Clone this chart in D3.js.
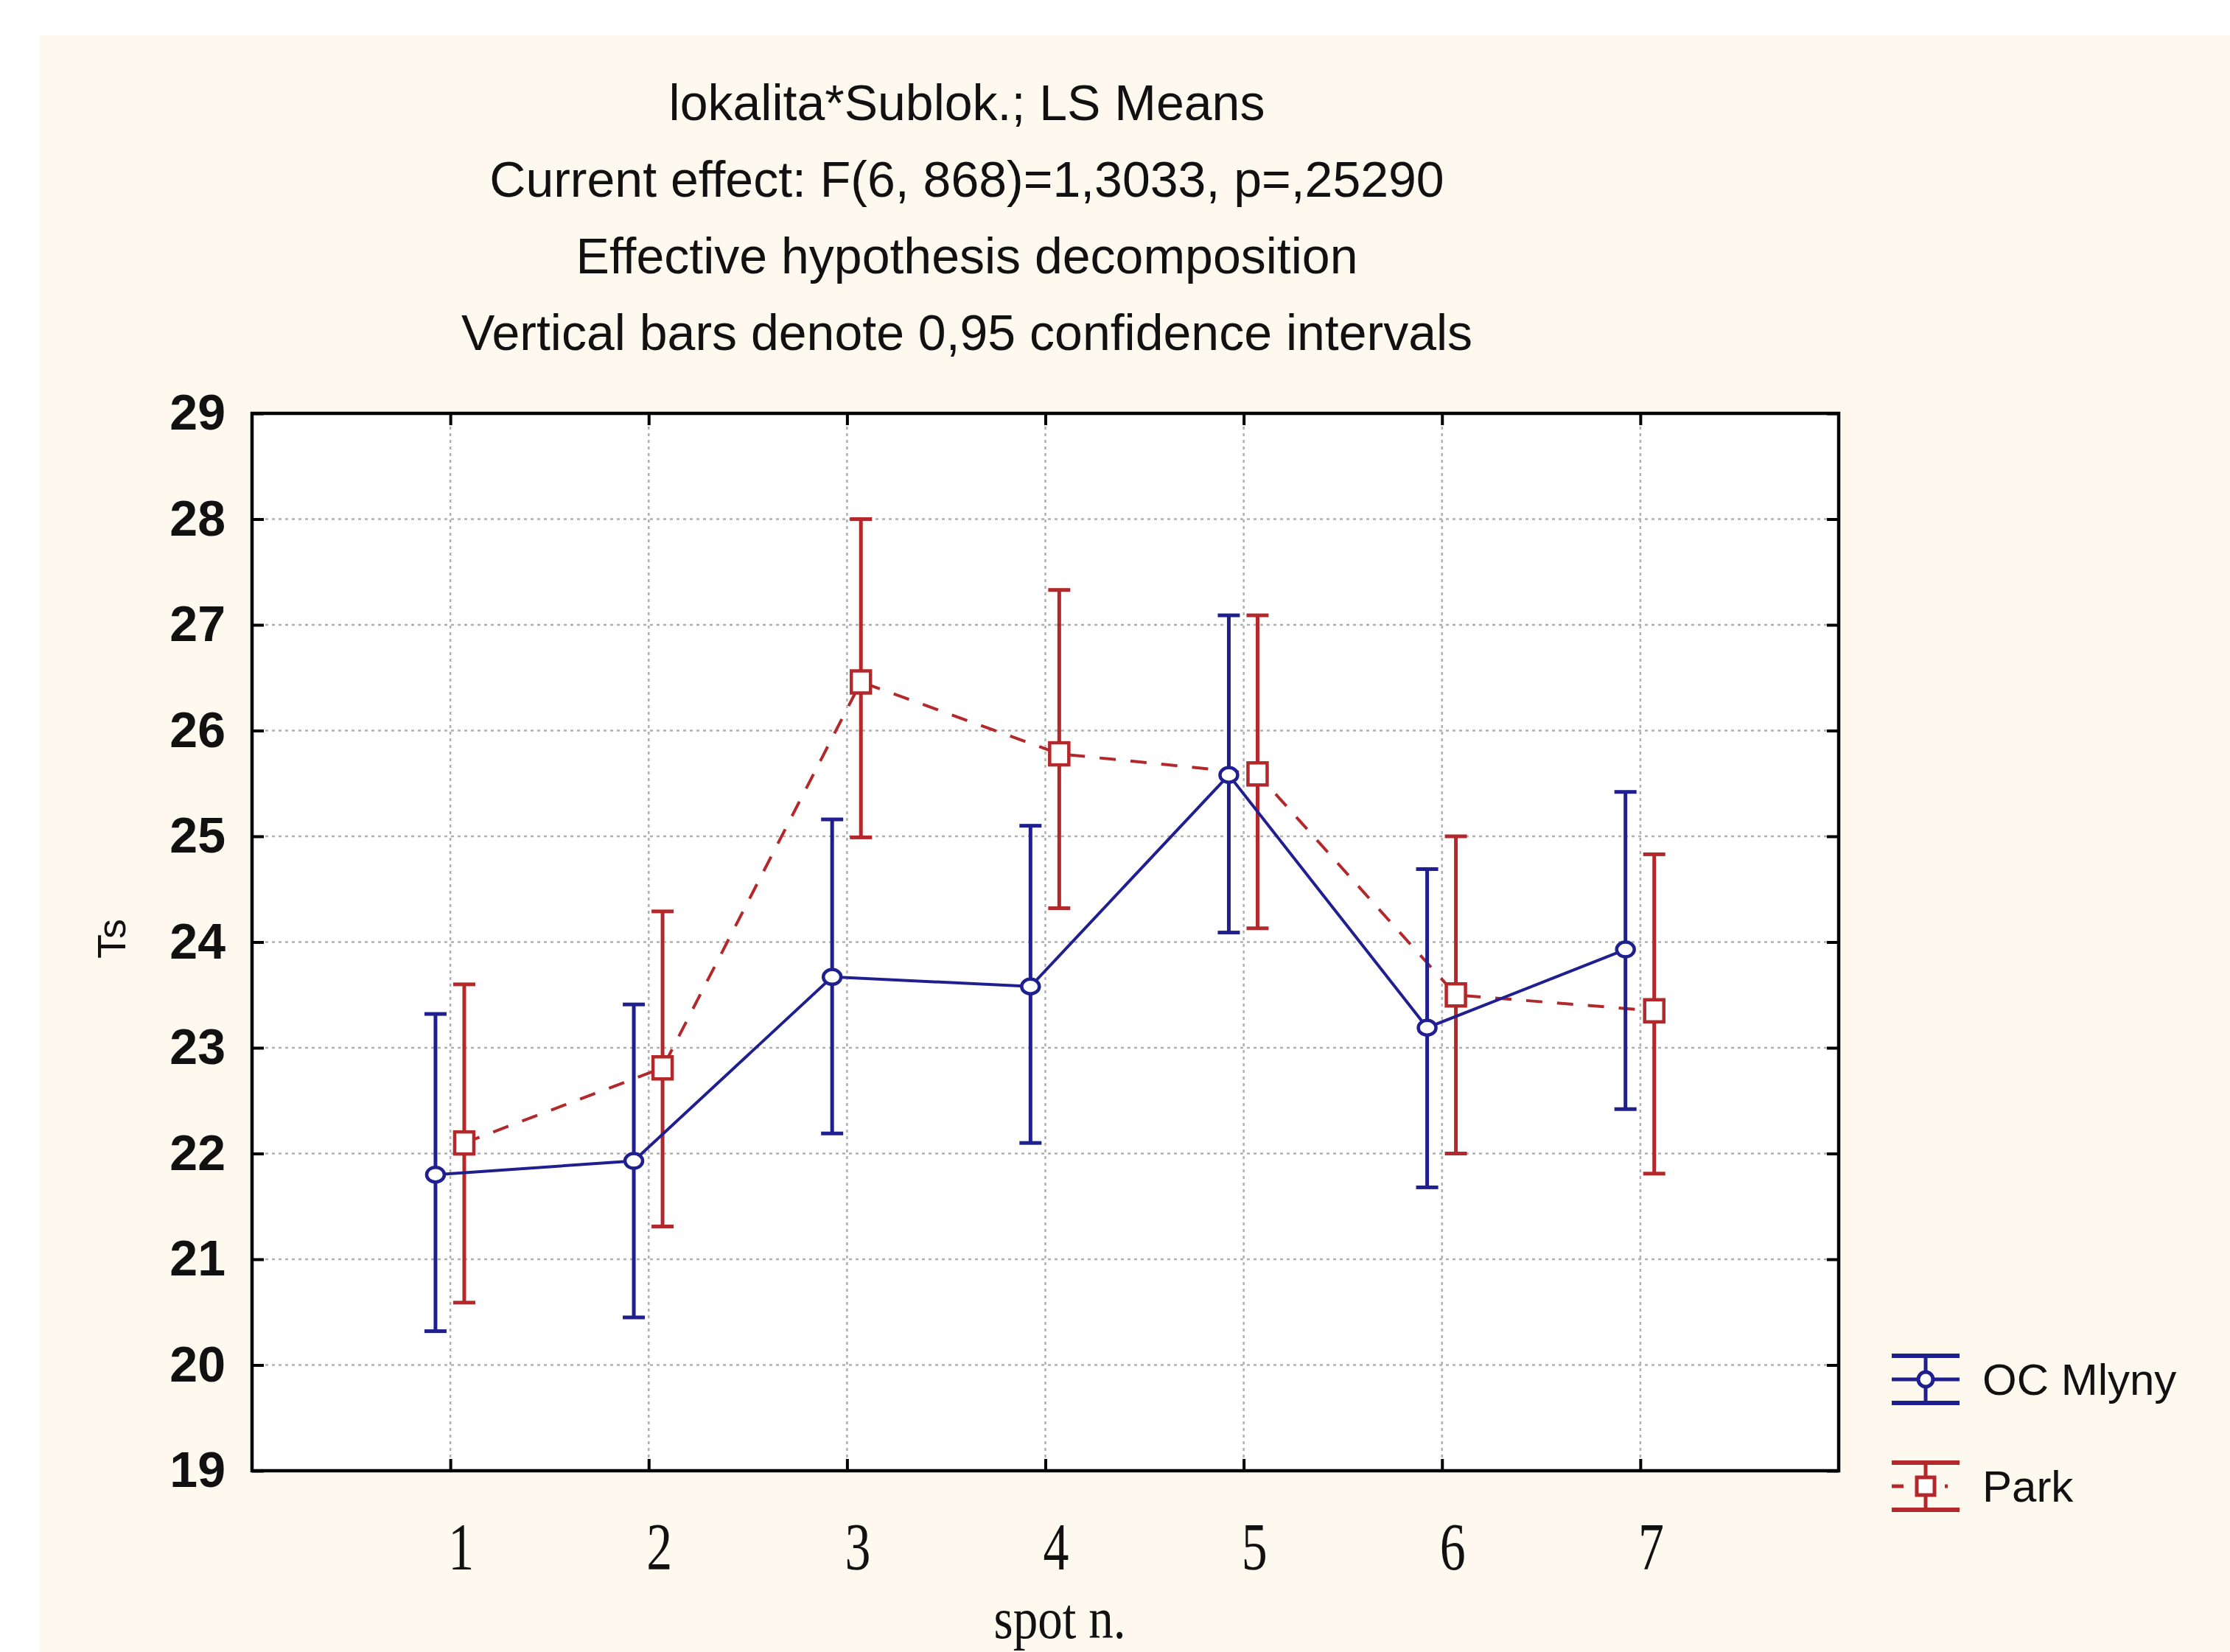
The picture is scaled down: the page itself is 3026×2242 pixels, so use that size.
<!DOCTYPE html>
<html>
<head>
<meta charset="utf-8">
<script src="https://cdn.jsdelivr.net/npm/d3@7"></script>
<style>
  html, body { margin: 0; padding: 0; background: #ffffff; }
  svg { display: block; }
</style>
</head>
<body>
<div id="chart"></div>
<script>
// Data
const categories = [1, 2, 3, 4, 5, 6, 7];
const yTicks = [19, 20, 21, 22, 23, 24, 25, 26, 27, 28, 29];
const seriesNames = ['OC Mlyny', 'Park'];

const ocMean = [21.80, 21.93, 23.67, 23.58, 25.58, 23.19, 23.93];
const ocLow  = [20.32, 20.45, 22.19, 22.10, 24.09, 21.68, 22.42];
const ocHigh = [23.32, 23.41, 25.16, 25.10, 27.09, 24.69, 25.42];

const parkMean = [22.10, 22.81, 26.46, 25.78, 25.59, 23.50, 23.35];
const parkLow  = [20.59, 21.31, 24.99, 24.32, 24.13, 22.00, 21.81];
const parkHigh = [23.60, 24.29, 28.00, 27.33, 27.09, 25.00, 24.83];

const titleLines = [
    'lokalita*Sublok.; LS Means',
    'Current effect: F(6, 868)=1,3033, p=,25290',
    'Effective hypothesis decomposition',
    'Vertical bars denote 0,95 confidence intervals'
];

const W = 3026, H = 2242;
const plot = { left: 342, right: 2495, top: 561, bottom: 1996 };
const blue = '#1f1f8f';
const red = '#b3282a';

const svg = d3.select('#chart').append('svg')
    .attr('width', W)
    .attr('height', H);

// cream page background (white strip top and left, like the cropped screenshot)
svg.append('rect').attr('width', W).attr('height', H).attr('fill', '#ffffff');
svg.append('rect')
    .attr('x', 54).attr('y', 48)
    .attr('width', W - 54).attr('height', H - 48)
    .attr('fill', '#fdf9ee');

// plot area
svg.append('rect')
    .attr('x', plot.left).attr('y', plot.top)
    .attr('width', plot.right - plot.left).attr('height', plot.bottom - plot.top)
    .attr('fill', '#ffffff');

const x = d3.scaleLinear().domain([0, 8]).range([plot.left, plot.right]);
const y = d3.scaleLinear().domain([19, 29]).range([plot.bottom, plot.top]);

// titles
svg.append('g').selectAll('text')
    .data(titleLines)
    .enter()
    .append('text')
    .attr('x', 1312)
    .attr('y', (d, i) => 163 + i * 104)
    .attr('text-anchor', 'middle')
    .style('font-family', '"Liberation Sans", Arial, sans-serif')
    .style('font-size', '68px')
    .style('fill', '#111')
    .text(d => d);

// gridlines
const grid = svg.append('g');
grid.selectAll('.hgrid')
    .data(yTicks.slice(1, -1))
    .enter()
    .append('line')
    .attr('x1', plot.left).attr('x2', plot.right)
    .attr('y1', d => y(d)).attr('y2', d => y(d))
    .attr('stroke', '#b0b0b0')
    .attr('stroke-width', 2.5)
    .attr('stroke-dasharray', '4,5');
grid.selectAll('.vgrid')
    .data(categories)
    .enter()
    .append('line')
    .attr('x1', d => x(d)).attr('x2', d => x(d))
    .attr('y1', plot.top).attr('y2', plot.bottom)
    .attr('stroke', '#b0b0b0')
    .attr('stroke-width', 2.5)
    .attr('stroke-dasharray', '4,5');

// axes, ticks pointing inward on all four sides
function styleAxis(g) {
    g.select('.domain').remove();
    g.selectAll('.tick line').attr('stroke', '#000').attr('stroke-width', 4);
}

const yAxis = svg.append('g')
    .attr('transform', `translate(${plot.left},0)`)
    .call(d3.axisLeft(y).tickValues(yTicks).tickSize(-16).tickPadding(36).tickFormat(d3.format('d')))
    .call(styleAxis);
yAxis.selectAll('text')
    .style('font-family', '"Liberation Sans", Arial, sans-serif')
    .style('font-weight', 'bold')
    .style('font-size', '68px')
    .style('fill', '#111');

svg.append('g')
    .attr('transform', `translate(${plot.right},0)`)
    .call(d3.axisRight(y).tickValues(yTicks).tickSize(-16).tickFormat(''))
    .call(styleAxis);

svg.append('g')
    .attr('transform', `translate(0,${plot.top})`)
    .call(d3.axisTop(x).tickValues(categories).tickSize(-16).tickFormat(''))
    .call(styleAxis);

const xAxis = svg.append('g')
    .attr('transform', `translate(0,${plot.bottom})`)
    .call(d3.axisBottom(x).tickValues(categories).tickSize(-16).tickFormat(d3.format('d')))
    .call(styleAxis);
xAxis.selectAll('text')
    .attr('y', 0).attr('dy', 0)
    .attr('transform', 'translate(14,134) scale(0.76,1)')
    .style('font-family', '"Liberation Serif", "Times New Roman", serif')
    .style('font-size', '92px')
    .style('fill', '#111');

// frame
svg.append('rect')
    .attr('x', plot.left).attr('y', plot.top)
    .attr('width', plot.right - plot.left).attr('height', plot.bottom - plot.top)
    .attr('fill', 'none')
    .attr('stroke', '#000')
    .attr('stroke-width', 4.5);

// axis titles
svg.append('text')
    .attr('transform', 'translate(170,1274) rotate(-90)')
    .attr('text-anchor', 'middle')
    .style('font-family', '"Liberation Sans", Arial, sans-serif')
    .style('font-size', '54px')
    .style('fill', '#111')
    .text('Ts');

svg.append('text')
    .attr('transform', 'translate(1438,2223) scale(0.86,1)')
    .attr('text-anchor', 'middle')
    .style('font-family', '"Liberation Serif", "Times New Roman", serif')
    .style('font-size', '78px')
    .style('fill', '#111')
    .text('spot n.');

// series
const series = [
    { name: seriesNames[0], mean: ocMean, low: ocLow, high: ocHigh, color: blue, dash: null, shift: -0.075, marker: 'circle' },
    { name: seriesNames[1], mean: parkMean, low: parkLow, high: parkHigh, color: red, dash: '22,20', shift: 0.07, marker: 'square' }
];

const capHalf = 15;

// draw Park first so blue sits on top like the reference
series.slice().reverse().forEach(s => {
    const g = svg.append('g');
    const pts = categories.map((c, i) => ({ c: c, m: s.mean[i], lo: s.low[i], hi: s.high[i] }));

    const line = d3.line()
        .x(d => x(d.c + s.shift))
        .y(d => y(d.m));

    g.append('path')
        .datum(pts)
        .attr('d', line)
        .attr('fill', 'none')
        .attr('stroke', s.color)
        .attr('stroke-width', 4)
        .attr('stroke-dasharray', s.dash);

    const bars = g.selectAll('.bar').data(pts).enter().append('g');
    bars.append('line')
        .attr('x1', d => x(d.c + s.shift)).attr('x2', d => x(d.c + s.shift))
        .attr('y1', d => y(d.lo)).attr('y2', d => y(d.hi))
        .attr('stroke', s.color).attr('stroke-width', 5);
    bars.append('line')
        .attr('x1', d => x(d.c + s.shift) - capHalf).attr('x2', d => x(d.c + s.shift) + capHalf)
        .attr('y1', d => y(d.hi)).attr('y2', d => y(d.hi))
        .attr('stroke', s.color).attr('stroke-width', 5);
    bars.append('line')
        .attr('x1', d => x(d.c + s.shift) - capHalf).attr('x2', d => x(d.c + s.shift) + capHalf)
        .attr('y1', d => y(d.lo)).attr('y2', d => y(d.lo))
        .attr('stroke', s.color).attr('stroke-width', 5);

    if (s.marker === 'circle') {
        bars.append('ellipse')
            .attr('cx', d => x(d.c + s.shift)).attr('cy', d => y(d.m))
            .attr('rx', 12).attr('ry', 10)
            .attr('fill', '#fff').attr('stroke', s.color).attr('stroke-width', 4.5);
    } else {
        bars.append('rect')
            .attr('x', d => x(d.c + s.shift) - 13).attr('y', d => y(d.m) - 15)
            .attr('width', 26).attr('height', 30)
            .attr('fill', '#fff').attr('stroke', s.color).attr('stroke-width', 4.5);
    }
});

// legend
const legend = svg.append('g');
series.forEach((s, i) => {
    const cy = 1872 + i * 145;
    const lg = legend.append('g').attr('transform', `translate(2613,${cy})`);
    lg.append('line').attr('x1', -46).attr('x2', 46).attr('y1', -32).attr('y2', -32)
        .attr('stroke', s.color).attr('stroke-width', 6);
    lg.append('line').attr('x1', -46).attr('x2', 46).attr('y1', 32).attr('y2', 32)
        .attr('stroke', s.color).attr('stroke-width', 6);
    lg.append('line').attr('x1', 0).attr('x2', 0).attr('y1', -32).attr('y2', 32)
        .attr('stroke', s.color).attr('stroke-width', 5);
    lg.append('line').attr('x1', -46).attr('x2', 46).attr('y1', 0).attr('y2', 0)
        .attr('stroke', s.color).attr('stroke-width', 5)
        .attr('stroke-dasharray', s.dash ? '16,56,4' : null);
    if (s.marker === 'circle') {
        lg.append('circle').attr('r', 10)
            .attr('fill', '#fff').attr('stroke', s.color).attr('stroke-width', 5);
    } else {
        lg.append('rect').attr('x', -12).attr('y', -12).attr('width', 24).attr('height', 24)
            .attr('fill', '#fff').attr('stroke', s.color).attr('stroke-width', 5);
    }
    legend.append('text')
        .attr('x', 2690).attr('y', cy + 21)
        .style('font-family', '"Liberation Sans", Arial, sans-serif')
        .style('font-size', '60px')
        .style('fill', '#111')
        .text(s.name);
});
</script>
</body>
</html>
